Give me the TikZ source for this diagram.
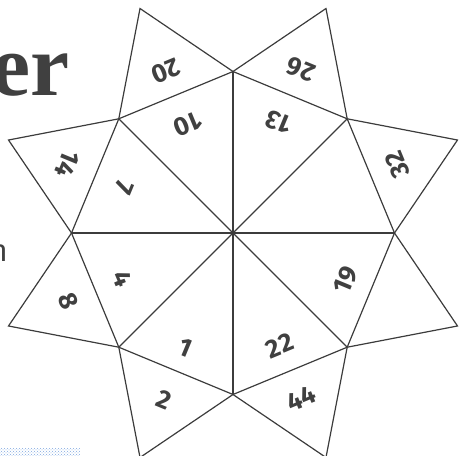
\documentclass[tikz,border=0pt]{standalone}
\usepackage{fontspec}
\usetikzlibrary{patterns}
\newfontfamily\numfont{Fira Sans}
\newfontfamily\titlefont{Liberation Serif}
\definecolor{linecolor}{HTML}{3C3C3C}
\definecolor{textcolor}{HTML}{404040}
\definecolor{barcolor}{HTML}{7FA7E0}

\begin{document}
\begin{tikzpicture}[x=1pt, y=1pt,
		line/.style={linecolor, line width=1.2pt},
		num/.style={textcolor, font=\numfont\bfseries\fontsize{26}{26}\selectfont, inner sep=0pt}
		]
		\useasboundingbox (-233,-223) rectangle (226,233);
		\clip (-233,-223) rectangle (226,233);
		
		% 中心与八边形顶点
		\coordinate (O) at (0,0);
		\coordinate (A) at (90:161.5);
		\coordinate (B) at (135:161.5);
		\coordinate (C) at (180:161.5);
		\coordinate (D) at (225:161.5);
		\coordinate (E) at (270:161.5);
		\coordinate (F) at (315:161.5);
		\coordinate (G) at (0:161.5);
		\coordinate (H) at (45:161.5);
		
		% 星形尖角
		\coordinate (P1) at (112.5:243);
		\coordinate (P2) at (157.5:243);
		\coordinate (P3) at (202.5:243);
		\coordinate (P4) at (247.5:243);
		\coordinate (P5) at (292.5:243);
		\coordinate (P6) at (337.5:243);
		\coordinate (P7) at (22.5:243);
		\coordinate (P8) at (67.5:243);
		
		% 左侧残留文字
		\node[textcolor, font=\titlefont\bfseries\fontsize{88}{88}\selectfont, anchor=base east, inner sep=0pt] (er) at (-163,138) {er};
		\node[textcolor, font=\numfont\fontsize{31}{31}\selectfont, anchor=base east, inner sep=0pt] (nn) at (-225,-28) {n};
		\fill[pattern=crosshatch dots, pattern color=barcolor] (-233,-215) rectangle (-153,-223);
		
		% 画线（八边形）
		\draw[line] (A) -- (B) -- (C) -- (D) -- (E) -- (F) -- (G) -- (H) -- cycle;
		
		% 画线（中心放射线）
		\draw[line] (O) -- (A);
		\draw[line] (O) -- (B);
		\draw[line] (O) -- (C);
		\draw[line] (O) -- (D);
		\draw[line] (O) -- (E);
		\draw[line] (O) -- (F);
		\draw[line] (O) -- (G);
		\draw[line] (O) -- (H);
		
		% 画线（尖角）
		\draw[line] (A) -- (P1) -- (B);
		\draw[line] (B) -- (P2) -- (C);
		\draw[line] (C) -- (P3) -- (D);
		\draw[line] (D) -- (P4) -- (E);
		\draw[line] (E) -- (P5) -- (F);
		\draw[line] (F) -- (P6) -- (G);
		\draw[line] (G) -- (P7) -- (H);
		\draw[line] (H) -- (P8) -- (A);
		
		% 内圈数字
		\node[num, rotate=202.5] (in1) at (112.5:118) {10};
		\node[num, rotate=157.5] (in2) at (67.5:120) {13};
		\node[num, rotate=67.5] (in3) at (-22.5:122) {19};
		\node[num, rotate=22.5] (in4) at (-67.5:122) {22};
		\node[num, rotate=-22.5] (in5) at (-112.5:124) {1};
		\node[num, rotate=-67.5] (in6) at (202.5:119) {4};
		\node[num, rotate=-112.5] (in7) at (157.5:118) {7};
		
		% 外圈数字
		\node[num, rotate=202.5] (out1) at (112.5:175) {20};
		\node[num, rotate=157.5] (out2) at (67.5:177) {26};
		\node[num, rotate=112.5] (out3) at (22.5:178) {32};
		\node[num, rotate=22.5] (out4) at (-67.5:179) {44};
		\node[num, rotate=-22.5] (out5) at (-112.5:180) {2};
		\node[num, rotate=-67.5] (out6) at (202.5:178) {8};
		\node[num, rotate=-112.5] (out7) at (157.5:179) {14};
		
	\end{tikzpicture}
\end{document}
